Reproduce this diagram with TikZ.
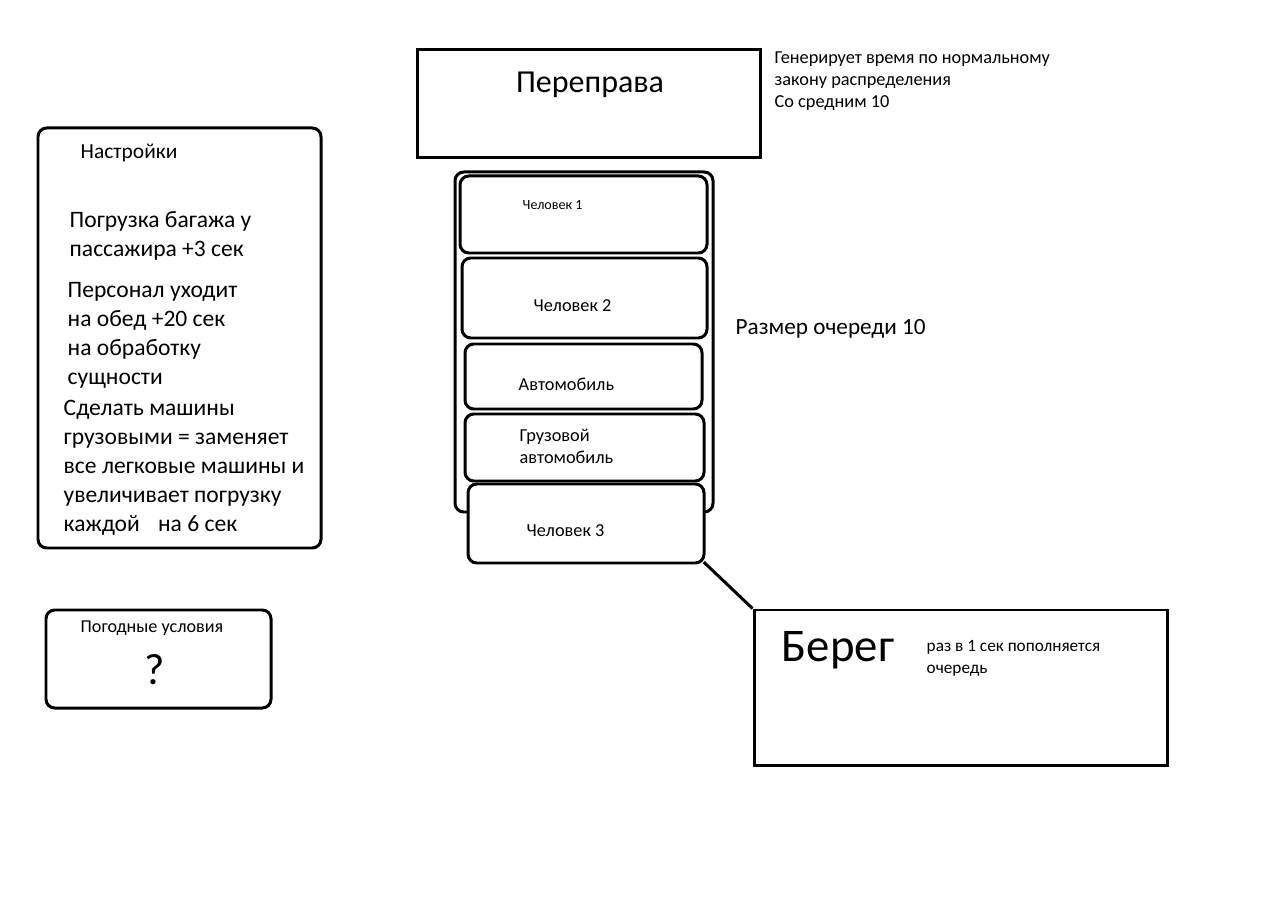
\documentclass[tikz,border=0pt]{standalone}
\usepackage{fontspec}
\setmainfont{Carlito}
\usetikzlibrary{fit}

\begin{document}
\begin{tikzpicture}[x=0.01cm,y=-0.01cm]
\tikzstyle{box}=[draw, line width=0.85pt, rounded corners=2.5pt, inner sep=0pt]
\tikzstyle{sbox}=[draw, line width=0.85pt, inner sep=0pt]
\tikzstyle{txt}=[anchor=west, inner sep=0pt, align=left]
\useasboundingbox (0,0) rectangle (1280,922);

% crossing
\node[sbox, fit={(417,50) (760,158)}] (perepr) {};
\node[font=\fontsize{9.1}{11}\selectfont, inner sep=0pt] (pereprT) at (590,85) {Переправа};
\node[txt, font=\fontsize{5.2}{6.3}\selectfont] (gen) at (774,81)
  {Генерирует время по нормальному\\закону распределения\\Со средним 10};

% settings
\node[box, fit={(38,128) (321,548)}] (nastr) {};
\node[txt, font=\fontsize{6.1}{7.5}\selectfont] (nastrT) at (80,153) {Настройки};
\begin{scope}[every node/.style={txt, font=\fontsize{6.7}{8.25}\selectfont}]
\node (bagazh) at (69,236) {Погрузка багажа у\\пассажира +3 сек};
\node (obed) at (67,335) {Персонал уходит\\на обед +20 сек\\на обработку\\сущности};
\node (gruzov) at (63,467.5) {Сделать машины\\грузовыми = заменяет\\все легковые машины и\\увеличивает погрузку\\каждой \hspace{0.55em}на 6 сек};
\end{scope}

% weather
\node[box, fit={(46,610) (271,708)}] (pogoda) {};
\node[txt, font=\fontsize{5.15}{6.3}\selectfont] (pogodaT) at (80,628) {Погодные условия};
\node[font=\fontsize{12.5}{14}\selectfont, inner sep=0pt] (vopros) at (155,670) {?};

% queue
\node[box, fit={(455,172) (713,512)}] (queue) {};
\foreach \n/\xa/\ya/\xb/\yb in {ch1/460/176/707/253, ch2/462/258/707/338,
    avto/465/344/702/409, gruz/465/414/704/481, ch3/468/484/704/563} {
  \node[box, fill=white, fit={(\xa,\ya) (\xb,\yb)}] (\n) {};}
\node[txt, font=\fontsize{4}{5}\selectfont] (ch1T) at (522,205) {Человек 1};
\begin{scope}[every node/.style={txt, font=\fontsize{5.2}{6.3}\selectfont}]
\node (ch2T) at (533,306) {Человек 2};
\node (avtoT) at (518,384) {Автомобиль};
\node (gruzT) at (519,446) {Грузовой\\автомобиль};
\node (ch3T) at (526,531) {Человек 3};
\end{scope}
\node[txt, font=\fontsize{6.6}{8.25}\selectfont] (razmer) at (735,329) {Размер очереди 10};

% shore
\node[sbox, fit={(754,610) (1167,765)}] (bereg) {};
\node[txt, font=\fontsize{13.3}{16}\selectfont] (beregT) at (781,650) {Берег};
\node[txt, font=\fontsize{4.9}{6.3}\selectfont] (popoln) at (926,658) {раз в 1 сек пополняется\\очередь};

\draw[line width=0.85pt] ([xshift=-0.5pt,yshift=0.7pt]ch3.south east) -- (bereg.north west);
\end{tikzpicture}
\end{document}
